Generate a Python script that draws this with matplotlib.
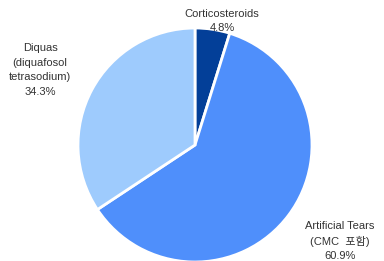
import matplotlib
matplotlib.use("Agg")
import matplotlib.pyplot as plt

plt.rcParams["font.family"] = ["Liberation Sans", "Noto Sans CJK KR", "DejaVu Sans"]

labels = ["Corticosteroids", "Artificial Tears\n(CMC  포함)", "Diquas\n(diquafosol\ntetrasodium)"]
shares = [4.8, 60.9, 34.3]
colors = ["#033f98", "#4f8ffb", "#9ecbfd"]
# label anchor points in pixels (x, y from top)
label_pos = [(222, 21), (340, 241), (40, 70)]

W, H = 384, 261
fig = plt.figure(figsize=(W / 100, H / 100), dpi=100)
fig.patch.set_facecolor("white")

cx, cy, r = 195, 145, 117
ax = fig.add_axes([(cx - r) / W, (H - cy - r) / H, 2 * r / W, 2 * r / H])
ax.pie(shares, colors=colors, startangle=90, counterclock=False,
       wedgeprops={"edgecolor": "white", "linewidth": 2})
ax.set_xlim(-1.0, 1.0)
ax.set_ylim(-1.0, 1.0)
ax.set_aspect("equal")
ax.axis("off")

for lab, val, (px, py) in zip(labels, shares, label_pos):
    fig.text(px / W, 1 - py / H, f"{lab}\n{val}%", ha="center", va="center",
             fontsize=8, color="#333333", linespacing=1.55)

fig.savefig("out.png", dpi=100, facecolor="white")
